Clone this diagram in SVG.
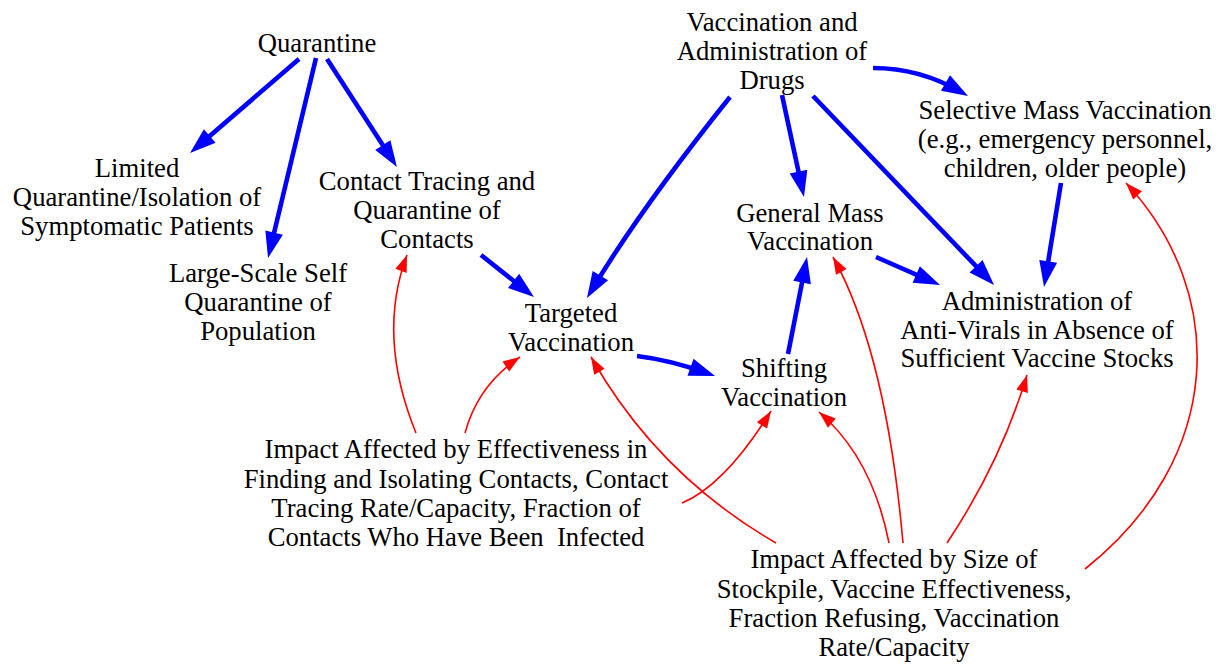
<svg xmlns="http://www.w3.org/2000/svg" width="1220" height="664" viewBox="0 0 1220 664">
<style>
text{font-family:'Liberation Serif','Times New Roman',Times,serif;font-size:26.7px;fill:#000;text-anchor:middle}
.b{fill:none;stroke:#0000ff;stroke-width:4.6}
.r{fill:none;stroke:#ff0000;stroke-width:1.6}
</style>
<defs>
<marker id="ab" markerUnits="userSpaceOnUse" markerWidth="26" markerHeight="18" refX="18" refY="9" orient="auto" overflow="visible"><path d="M0,0 L26,9 L0,18 z" fill="#0000ff"/></marker>
<marker id="ar" markerUnits="userSpaceOnUse" markerWidth="17" markerHeight="12" refX="17" refY="6" orient="auto" overflow="visible"><path d="M0,0 L17,6 L0,12 z" fill="#ff0000"/></marker>
</defs>
<rect width="1220" height="664" fill="#fff"/>
<g id="connectors">
<path class="b" marker-end="url(#ab)" d="M299,59 L196.1,147.8"/>
<path class="b" marker-end="url(#ab)" d="M316,58 L269.9,250.2"/>
<path class="b" marker-end="url(#ab)" d="M327,59 L392.6,160.3"/>
<path class="b" marker-end="url(#ab)" d="M481,255 L527.7,292"/>
<path class="b" marker-end="url(#ab)" d="M730,97 Q640.4,209 591.1,291.1"/>
<path class="b" marker-end="url(#ab)" d="M782,95 L802.3,189.2"/>
<path class="b" marker-end="url(#ab)" d="M813,96 L988.5,279.2"/>
<path class="b" marker-end="url(#ab)" d="M873,68 Q919.5,68 961.1,92"/>
<path class="b" marker-end="url(#ab)" d="M1061,183 L1045.3,279.1"/>
<path class="b" marker-end="url(#ab)" d="M876,257 L932.7,281.8"/>
<path class="b" marker-end="url(#ab)" d="M637,356 Q670,360 707.5,373.3"/>
<path class="b" marker-end="url(#ab)" d="M788,354 L805.5,264.9"/>
<path class="r" marker-end="url(#ar)" d="M416,433 Q376.5,336 407,255"/>
<path class="r" marker-end="url(#ar)" d="M465,433 Q478,385 520,357"/>
<path class="r" marker-end="url(#ar)" d="M682,503 Q725,485 771,411"/>
<path class="r" marker-end="url(#ar)" d="M776,543 Q658,475 591,357"/>
<path class="r" marker-end="url(#ar)" d="M889,543 Q872.3,457.9 819,412"/>
<path class="r" marker-end="url(#ar)" d="M903,543 Q886.2,353 833,257"/>
<path class="r" marker-end="url(#ar)" d="M947,543 Q1000.9,462 1027,375"/>
<path class="r" marker-end="url(#ar)" d="M1085,569 C1225.4,457.4 1228,292.5 1126,183"/>
</g>
<g id="quarantine"><text x="317" y="52">Quarantine</text></g>
<g id="limited"><text x="137" y="177">Limited</text><text x="137" y="206">Quarantine/Isolation of</text><text x="137" y="235">Symptomatic Patients</text></g>
<g id="largescale"><text x="258" y="282">Large-Scale Self</text><text x="258" y="311">Quarantine of</text><text x="258" y="340">Population</text></g>
<g id="contact"><text x="427" y="190">Contact Tracing and</text><text x="427" y="219">Quarantine of</text><text x="427" y="248">Contacts</text></g>
<g id="targeted"><text x="571" y="322">Targeted</text><text x="571" y="351">Vaccination</text></g>
<g id="shifting"><text x="784" y="377">Shifting</text><text x="784" y="406">Vaccination</text></g>
<g id="vaccadmin"><text x="772" y="31">Vaccination and</text><text x="772" y="60">Administration of</text><text x="772" y="89">Drugs</text></g>
<g id="selective"><text x="1065" y="119">Selective Mass Vaccination</text><text x="1065" y="148">(e.g., emergency personnel,</text><text x="1065" y="177">children, older people)</text></g>
<g id="general"><text x="810" y="222">General Mass</text><text x="810" y="250">Vaccination</text></g>
<g id="antivirals"><text x="1037" y="310">Administration of</text><text x="1037" y="339">Anti-Virals in Absence of</text><text x="1037" y="367">Sufficient Vaccine Stocks</text></g>
<g id="impacteff"><text x="456" y="458">Impact Affected by Effectiveness in</text><text x="456" y="488">Finding and Isolating Contacts, Contact</text><text x="456" y="517">Tracing Rate/Capacity, Fraction of</text><text x="456" y="546" xml:space="preserve">Contacts Who Have Been  Infected</text></g>
<g id="impactsize"><text x="894" y="568">Impact Affected by Size of</text><text x="894" y="598">Stockpile, Vaccine Effectiveness,</text><text x="894" y="627">Fraction Refusing, Vaccination</text><text x="894" y="656">Rate/Capacity</text></g>
</svg>
